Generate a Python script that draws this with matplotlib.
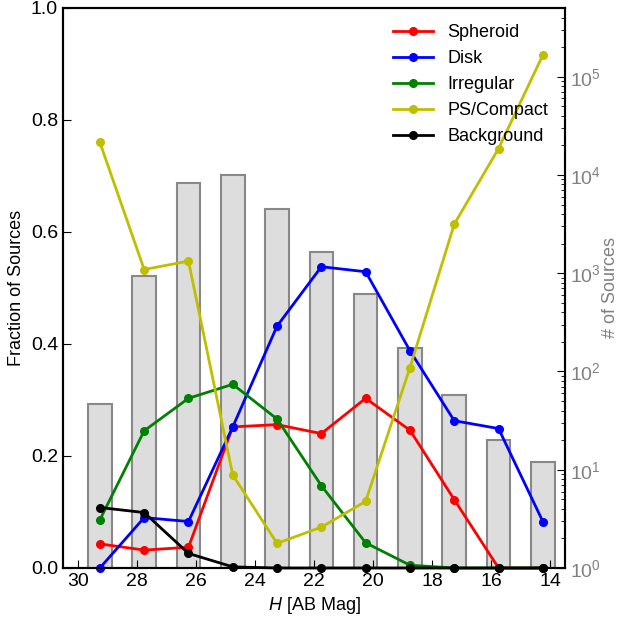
import matplotlib
matplotlib.use("Agg")
import matplotlib.pyplot as plt

plt.rcParams["font.family"] = "Liberation Sans"
plt.rcParams["mathtext.fontset"] = "custom"
plt.rcParams["mathtext.rm"] = "Liberation Sans"
plt.rcParams["mathtext.it"] = "Liberation Sans:italic"

# magnitude bin centres (H band, AB)
mag = [29.25, 27.75, 26.25, 24.75, 23.25, 21.75, 20.25, 18.75, 17.25, 15.75, 14.25]

# fraction of sources per class
spheroid = [0.043, 0.032, 0.037, 0.252, 0.256, 0.240, 0.303, 0.246, 0.122, 0.0, 0.0]
disk = [0.0, 0.090, 0.083, 0.252, 0.432, 0.538, 0.529, 0.388, 0.263, 0.249, 0.083]
irregular = [0.086, 0.245, 0.303, 0.328, 0.266, 0.147, 0.045, 0.005, 0.0, 0.0, 0.0]
ps_compact = [0.760, 0.533, 0.548, 0.166, 0.044, 0.073, 0.119, 0.358, 0.614, 0.749, 0.916]
background = [0.108, 0.099, 0.026, 0.002, 0.0, 0.0, 0.0, 0.0, 0.0, 0.0, 0.0]

# number of sources per bin
n_sources = [47, 930, 8300, 10000, 4500, 1630, 610, 172, 57, 20, 12]

series = [
    ("Spheroid", spheroid, "r"),
    ("Disk", disk, "b"),
    ("Irregular", irregular, "g"),
    ("PS/Compact", ps_compact, "y"),
    ("Background", background, "k"),
]

fig = plt.figure(figsize=(6.21, 6.19), dpi=100)
ax = fig.add_axes([0.1014, 0.0824, 0.8084, 0.9047])
ax2 = ax.twinx()

# histogram of counts on the right (log) axis, behind the lines
ax2.bar(mag, n_sources, width=0.8, color="#dddddd", edgecolor="#888888", linewidth=1.5)
ax2.set_yscale("log")
ax2.set_ylim(1, 5e5)
ax2.set_ylabel("# of Sources", color="#808080", fontsize=13, labelpad=1)
ax2.tick_params(axis="y", which="both", direction="in", colors="k", labelcolor="#808080", labelsize=14)
ax2.tick_params(axis="y", which="major", length=6)
ax2.tick_params(axis="y", which="minor", length=3)

ax.set_zorder(ax2.get_zorder() + 1)
ax.patch.set_visible(False)

for name, frac, col in series:
    ax.plot(mag, frac, "-o", color=col, lw=2, ms=5.5, label=name, clip_on=False)

ax.set_xlim(30.5, 13.5)
ax.set_ylim(0, 1)
ax.set_xticks([30, 28, 26, 24, 22, 20, 18, 16, 14])
ax.set_yticks([0, 0.2, 0.4, 0.6, 0.8, 1.0])
ax.tick_params(direction="in", length=6, labelsize=14, right=False, top=False)
ax.set_xlabel("$H$ [AB Mag]", fontsize=13)
ax.set_ylabel("Fraction of Sources", fontsize=13)
for sp in ax.spines.values():
    sp.set_linewidth(1.5)
for sp in ax2.spines.values():
    sp.set_linewidth(1.5)

ax.legend(loc="upper right", bbox_to_anchor=(0.999, 1.0), frameon=False, fontsize=13,
          handlelength=2.2, labelspacing=0.5)

fig.savefig("out.png", dpi=100)
